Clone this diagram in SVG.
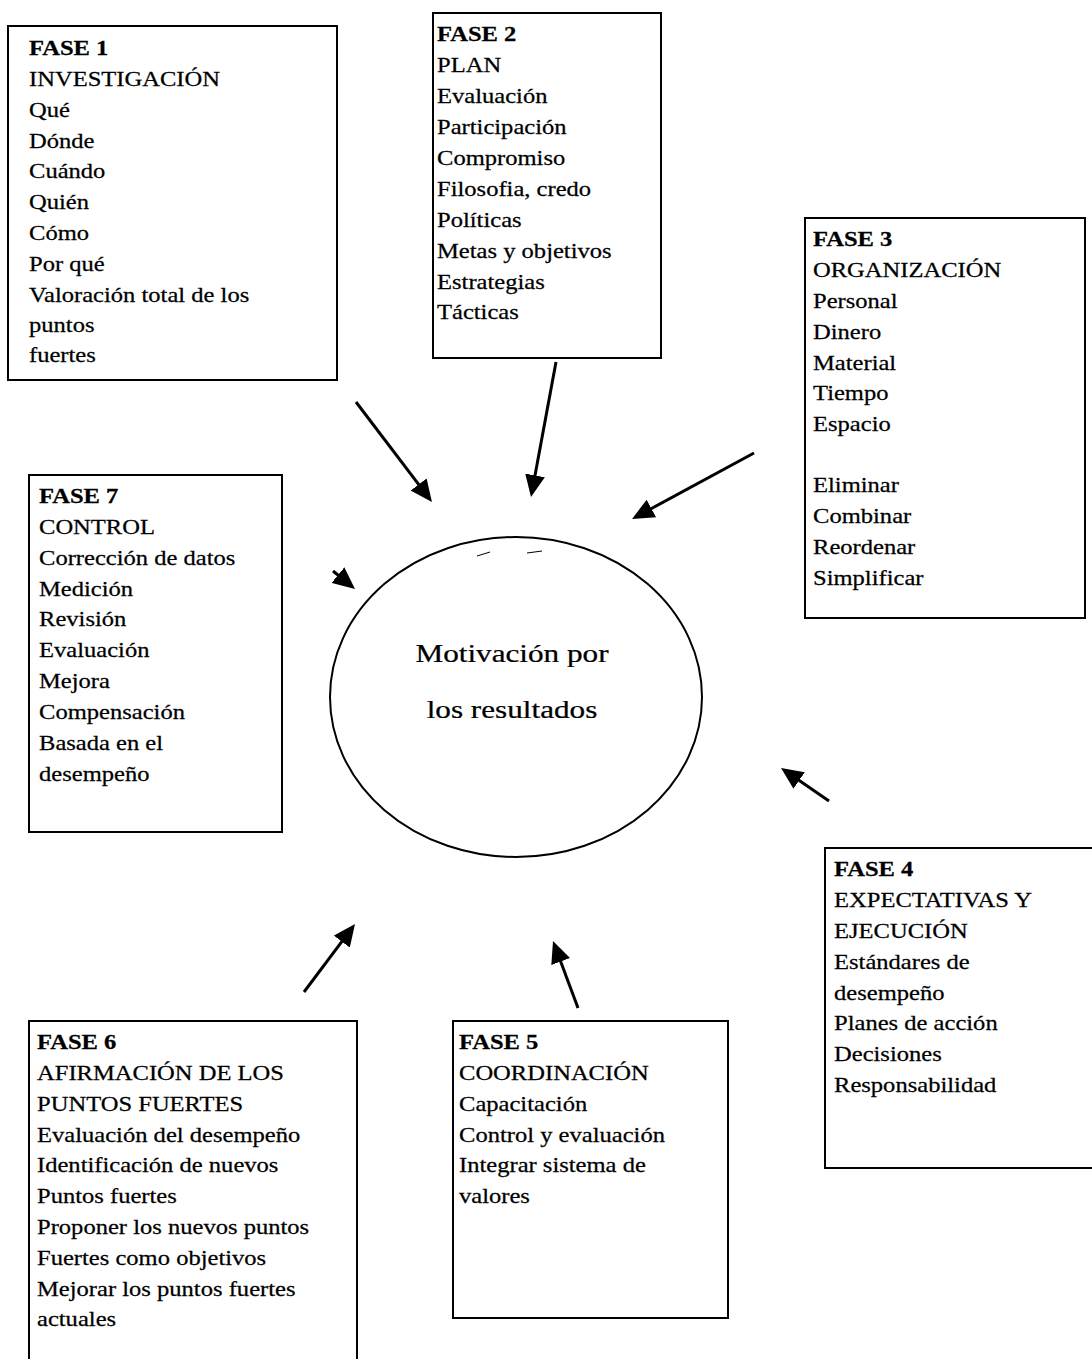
<svg xmlns="http://www.w3.org/2000/svg" width="1092" height="1359" viewBox="0 0 1092 1359">
<style>
.box{fill:none;stroke:#000;stroke-width:2}
.t{font-family:"Liberation Serif","Times New Roman",serif;font-size:21px;fill:#000;stroke:#000;stroke-width:0.25}
.b{font-weight:bold}
.c{font-family:"Liberation Serif","Times New Roman",serif;font-size:26px;fill:#000;stroke:#000;stroke-width:0.25;text-anchor:middle}
.conn line{stroke:#000;stroke-width:3}
</style>
<defs>
<marker id="ah" viewBox="0 0 22 20" refX="10" refY="10" markerWidth="22" markerHeight="20" markerUnits="userSpaceOnUse" orient="auto">
<path d="M0,0 L22,10 L0,20 Z" fill="#000"/>
</marker>
</defs>
<rect width="1092" height="1359" fill="#fff"/>

<g id="fase1">
<rect class="box" x="8" y="26" width="329" height="354"/>
<g transform="translate(29 0) scale(1.17 1)">
<text class="t b" x="0" y="55">FASE 1</text>
<text class="t" x="0" y="86">INVESTIGACIÓN</text>
<text class="t" x="0" y="117">Qué</text>
<text class="t" x="0" y="148">Dónde</text>
<text class="t" x="0" y="178">Cuándo</text>
<text class="t" x="0" y="209">Quién</text>
<text class="t" x="0" y="240">Cómo</text>
<text class="t" x="0" y="271">Por qué</text>
<text class="t" x="0" y="302">Valoración total de los</text>
<text class="t" x="0" y="332">puntos</text>
<text class="t" x="0" y="362">fuertes</text>
</g>
</g>

<g id="fase2">
<rect class="box" x="433" y="13" width="228" height="345"/>
<g transform="translate(437 0) scale(1.17 1)">
<text class="t b" x="0" y="41">FASE 2</text>
<text class="t" x="0" y="72">PLAN</text>
<text class="t" x="0" y="103">Evaluación</text>
<text class="t" x="0" y="134">Participación</text>
<text class="t" x="0" y="165">Compromiso</text>
<text class="t" x="0" y="196">Filosofia, credo</text>
<text class="t" x="0" y="227">Políticas</text>
<text class="t" x="0" y="258">Metas y objetivos</text>
<text class="t" x="0" y="289">Estrategias</text>
<text class="t" x="0" y="319">Tácticas</text>
</g>
</g>

<g id="fase3">
<rect class="box" x="805" y="218" width="280" height="400"/>
<g transform="translate(813 0) scale(1.17 1)">
<text class="t b" x="0" y="246">FASE 3</text>
<text class="t" x="0" y="277">ORGANIZACIÓN</text>
<text class="t" x="0" y="308">Personal</text>
<text class="t" x="0" y="339">Dinero</text>
<text class="t" x="0" y="370">Material</text>
<text class="t" x="0" y="400">Tiempo</text>
<text class="t" x="0" y="431">Espacio</text>
<text class="t" x="0" y="492">Eliminar</text>
<text class="t" x="0" y="523">Combinar</text>
<text class="t" x="0" y="554">Reordenar</text>
<text class="t" x="0" y="585">Simplificar</text>
</g>
</g>

<g id="fase4">
<rect class="box" x="825" y="848" width="280" height="320"/>
<g transform="translate(834 0) scale(1.17 1)">
<text class="t b" x="0" y="876">FASE 4</text>
<text class="t" x="0" y="907">EXPECTATIVAS Y</text>
<text class="t" x="0" y="938">EJECUCIÓN</text>
<text class="t" x="0" y="969">Estándares de</text>
<text class="t" x="0" y="1000">desempeño</text>
<text class="t" x="0" y="1030">Planes de acción</text>
<text class="t" x="0" y="1061">Decisiones</text>
<text class="t" x="0" y="1092">Responsabilidad</text>
</g>
</g>

<g id="fase5">
<rect class="box" x="453" y="1021" width="275" height="297"/>
<g transform="translate(459 0) scale(1.17 1)">
<text class="t b" x="0" y="1049">FASE 5</text>
<text class="t" x="0" y="1080">COORDINACIÓN</text>
<text class="t" x="0" y="1111">Capacitación</text>
<text class="t" x="0" y="1142">Control y evaluación</text>
<text class="t" x="0" y="1172">Integrar sistema de</text>
<text class="t" x="0" y="1203">valores</text>
</g>
</g>

<g id="fase6">
<rect class="box" x="29" y="1021" width="328" height="360"/>
<g transform="translate(37 0) scale(1.17 1)">
<text class="t b" x="0" y="1049">FASE 6</text>
<text class="t" x="0" y="1080">AFIRMACIÓN DE LOS</text>
<text class="t" x="0" y="1111">PUNTOS FUERTES</text>
<text class="t" x="0" y="1142">Evaluación del desempeño</text>
<text class="t" x="0" y="1172">Identificación de nuevos</text>
<text class="t" x="0" y="1203">Puntos fuertes</text>
<text class="t" x="0" y="1234">Proponer los nuevos puntos</text>
<text class="t" x="0" y="1265">Fuertes como objetivos</text>
<text class="t" x="0" y="1296">Mejorar los puntos fuertes</text>
<text class="t" x="0" y="1326">actuales</text>
</g>
</g>

<g id="fase7">
<rect class="box" x="29" y="475" width="253" height="357"/>
<g transform="translate(39 0) scale(1.17 1)">
<text class="t b" x="0" y="503">FASE 7</text>
<text class="t" x="0" y="534">CONTROL</text>
<text class="t" x="0" y="565">Corrección de datos</text>
<text class="t" x="0" y="596">Medición</text>
<text class="t" x="0" y="626">Revisión</text>
<text class="t" x="0" y="657">Evaluación</text>
<text class="t" x="0" y="688">Mejora</text>
<text class="t" x="0" y="719">Compensación</text>
<text class="t" x="0" y="750">Basada en el</text>
<text class="t" x="0" y="781">desempeño</text>
</g>
</g>

<g id="centro">
<ellipse cx="516" cy="697" rx="186" ry="160" fill="none" stroke="#000" stroke-width="2"/>
<path d="M477,556 L490,552 M527,553 L542,551" stroke="#000" stroke-width="1" fill="none"/>
<g transform="translate(512 0) scale(1.2 1)">
<text class="c" x="0" y="662">Motivación por</text>
<text class="c" x="0" y="718">los resultados</text>
</g>
</g>

<g id="connectors" class="conn">
<line x1="356" y1="402" x2="424.7" y2="492.4" marker-end="url(#ah)"/>
<line x1="556" y1="362" x2="533.2" y2="485.2" marker-end="url(#ah)"/>
<line x1="754" y1="453" x2="642.6" y2="513.3" marker-end="url(#ah)"/>
<line x1="333" y1="571" x2="345.7" y2="581.4" marker-end="url(#ah)"/>
<line x1="829" y1="801" x2="790.9" y2="774.8" marker-end="url(#ah)"/>
<line x1="578" y1="1008" x2="557.2" y2="952.2" marker-end="url(#ah)"/>
<line x1="304" y1="992" x2="347.8" y2="933.6" marker-end="url(#ah)"/>
</g>
</svg>
